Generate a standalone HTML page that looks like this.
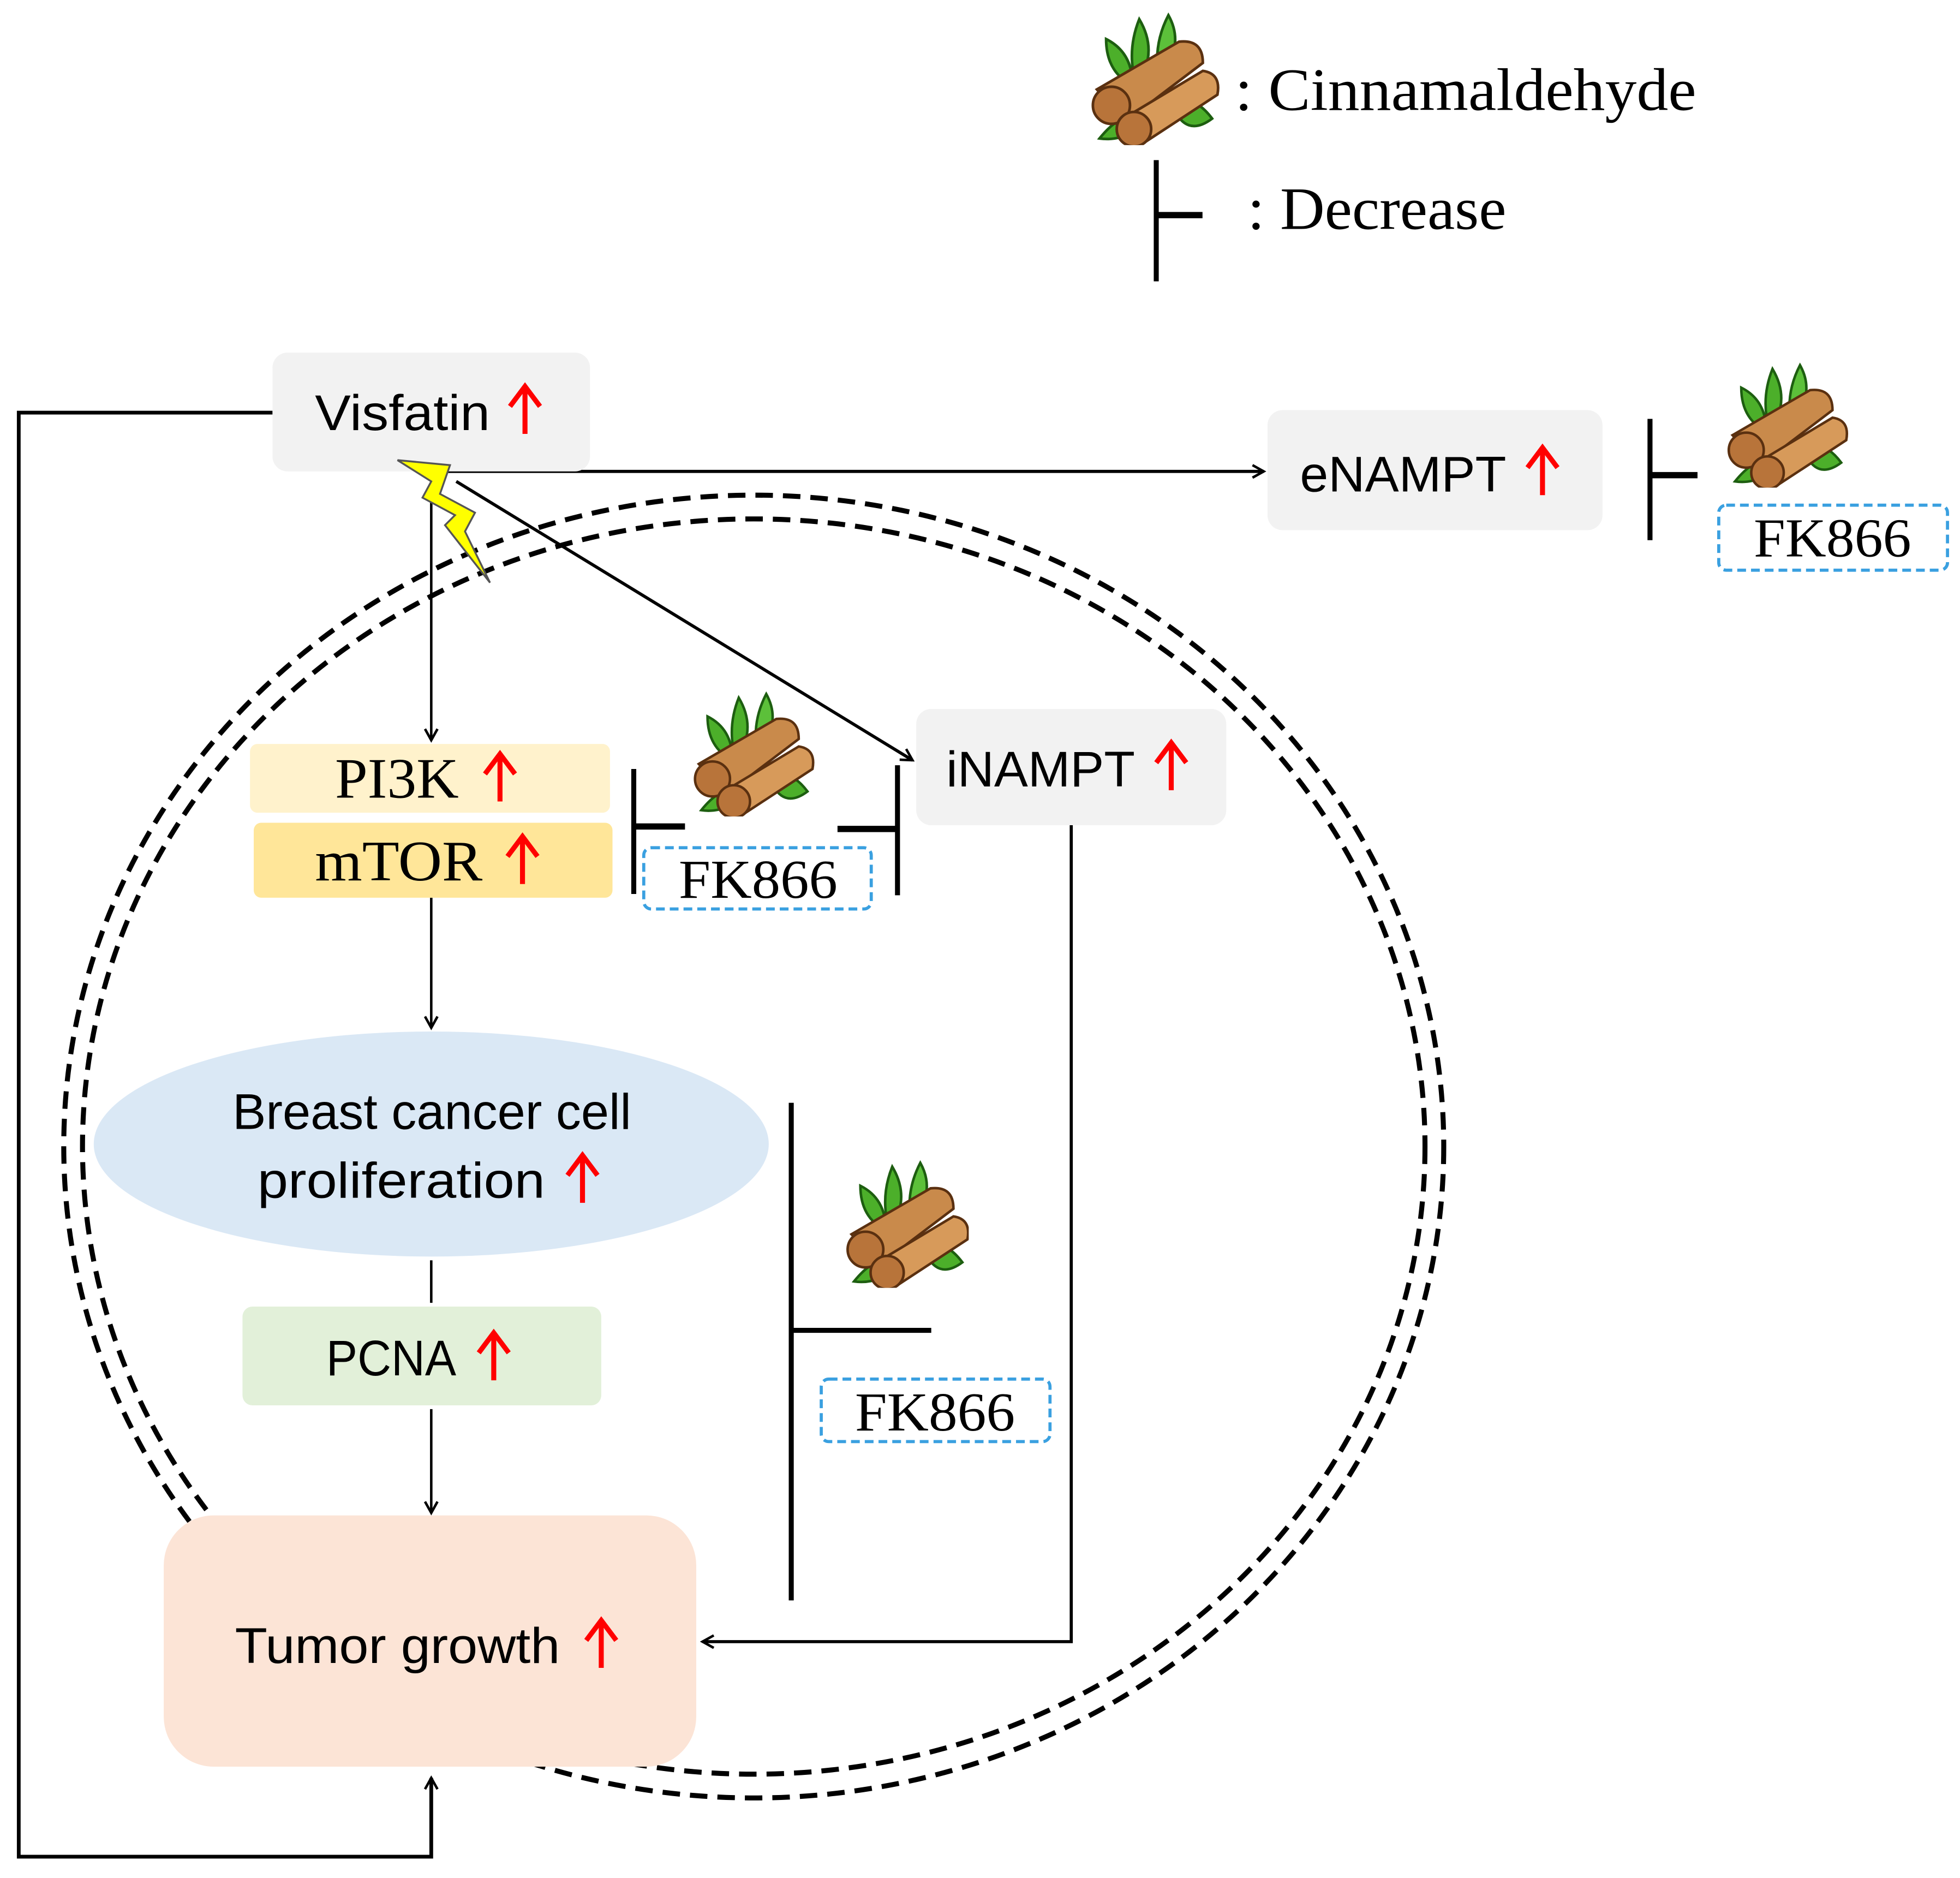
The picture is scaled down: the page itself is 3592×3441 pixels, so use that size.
<!DOCTYPE html>
<html><head><meta charset="utf-8"><style>html,body{margin:0;padding:0;background:#fff}svg{display:block}</style></head>
<body>
<svg width="3592" height="3441" viewBox="0 0 1568 1502" xmlns="http://www.w3.org/2000/svg">
<defs>
<marker id="ah" markerWidth="12" markerHeight="12" refX="10" refY="6" orient="auto" markerUnits="userSpaceOnUse">
<path d="M1,1 L10,6 L1,11" fill="none" stroke="#000" stroke-width="2"/></marker>
<symbol id="cin" viewBox="0 0 100 100">
<path d="M40,5 Q30,30 38,55 Q55,30 40,5Z" fill="#4caf2a" stroke="#1d5e10" stroke-width="2"/>
<path d="M62,2 Q50,25 55,50 Q75,25 62,2Z" fill="#5cc03a" stroke="#1d5e10" stroke-width="2"/>
<path d="M15,20 Q15,45 35,55 Q35,30 15,20Z" fill="#4caf2a" stroke="#1d5e10" stroke-width="2"/>
<path d="M10,95 Q30,70 50,80 Q30,98 10,95Z" fill="#4caf2a" stroke="#1d5e10" stroke-width="2"/>
<path d="M95,80 Q80,60 65,70 Q75,95 95,80Z" fill="#4caf2a" stroke="#1d5e10" stroke-width="2"/>
<path d="M8,58 L70,22 Q88,20 88,38 L30,82 Z" fill="#c98a4b" stroke="#5a3010" stroke-width="2"/>
<circle cx="19" cy="70" r="14" fill="#b8743a" stroke="#5a3010" stroke-width="2"/>
<path d="M28,80 L88,44 Q102,46 99,62 L44,98 Z" fill="#d79a5a" stroke="#5a3010" stroke-width="2"/>
<circle cx="36" cy="88" r="13" fill="#b8743a" stroke="#5a3010" stroke-width="2"/>
</symbol>
<g id="rup"><path d="M0,0 L0,-36" stroke="#f00" stroke-width="4" fill="none"/><path d="M-12,-22 L0,-38 L12,-22" stroke="#f00" stroke-width="4" fill="none"/></g>
</defs>
<g font-family="'Liberation Serif',serif" fill="#000">
<use href="#cin" x="862" y="10" width="120" height="106"/>
<text x="988" y="88" font-size="48" textLength="369" lengthAdjust="spacingAndGlyphs">: Cinnamaldehyde</text>
<line x1="925" y1="128" x2="925" y2="225" stroke="#000" stroke-width="4"/>
<line x1="925" y1="172" x2="962" y2="172" stroke="#000" stroke-width="5"/>
<text x="998" y="183" font-size="48" textLength="207" lengthAdjust="spacingAndGlyphs">: Decrease</text>
</g>
<ellipse cx="603" cy="917" rx="552" ry="521" fill="none" stroke="#000" stroke-width="4" stroke-dasharray="14 8"/>
<ellipse cx="603" cy="917" rx="537" ry="502" fill="none" stroke="#000" stroke-width="4" stroke-dasharray="14 8"/>
<polyline points="218,330 15,330 15,1485 345,1485 345,1422" fill="none" stroke="#000" stroke-width="3" marker-end="url(#ah)"/>
<line x1="345" y1="377" x2="1011" y2="377" stroke="#000" stroke-width="2.5" marker-end="url(#ah)"/>
<line x1="345" y1="377" x2="345" y2="592" stroke="#000" stroke-width="2" marker-end="url(#ah)"/>
<line x1="365" y1="385" x2="730" y2="608" stroke="#000" stroke-width="2.5" marker-end="url(#ah)"/>
<line x1="345" y1="718" x2="345" y2="822" stroke="#000" stroke-width="2" marker-end="url(#ah)"/>
<line x1="345" y1="1008" x2="345" y2="1042" stroke="#000" stroke-width="2"/>
<line x1="345" y1="1127" x2="345" y2="1210" stroke="#000" stroke-width="2" marker-end="url(#ah)"/>
<polyline points="857,660 857,1313 562,1313" fill="none" stroke="#000" stroke-width="2.5" marker-end="url(#ah)"/>
<rect x="218" y="282" width="254" height="95" rx="12" fill="#f2f2f2"/>
<rect x="1014" y="328" width="268" height="96" rx="12" fill="#f2f2f2"/>
<rect x="733" y="567" width="248" height="93" rx="12" fill="#f2f2f2"/>
<rect x="200" y="595" width="288" height="55" rx="6" fill="#fff2cc"/>
<rect x="203" y="658" width="287" height="60" rx="6" fill="#ffe699"/>
<ellipse cx="345" cy="915" rx="270" ry="90" fill="#dae8f5"/>
<rect x="194" y="1045" width="287" height="79" rx="8" fill="#e2f0d9"/>
<rect x="131" y="1212" width="426" height="201" rx="40" fill="#fce4d6"/>
<polygon points="318,368 360,372 352,395 380,410 372,425 392,466 356,420 364,412 338,398 345,385" fill="#ffff00" stroke="#555" stroke-width="1.5"/>
<g font-family="'Liberation Sans',sans-serif" font-size="40" fill="#000" lengthAdjust="spacingAndGlyphs">
<text x="252" y="344" textLength="140" lengthAdjust="spacingAndGlyphs">Visfatin</text><use href="#rup" x="420" y="347"/>
<text x="1040" y="393" textLength="165" lengthAdjust="spacingAndGlyphs">eNAMPT</text><use href="#rup" x="1234" y="396"/>
<text x="757" y="629" textLength="151" lengthAdjust="spacingAndGlyphs">iNAMPT</text><use href="#rup" x="937" y="632"/>
<text x="186" y="903" textLength="319" lengthAdjust="spacingAndGlyphs">Breast cancer cell</text>
<text x="206" y="958" textLength="230" lengthAdjust="spacingAndGlyphs">proliferation</text><use href="#rup" x="466" y="962"/>
<text x="261" y="1100" textLength="104" lengthAdjust="spacingAndGlyphs">PCNA</text><use href="#rup" x="395" y="1104"/>
<text x="188" y="1330" textLength="260" lengthAdjust="spacingAndGlyphs">Tumor growth</text><use href="#rup" x="481" y="1334"/>
</g>
<g font-family="'Liberation Serif',serif" font-size="46" fill="#000">
<text x="268" y="638" textLength="99" lengthAdjust="spacingAndGlyphs">PI3K</text><use href="#rup" x="400" y="641"/>
<text x="252" y="704" textLength="134" lengthAdjust="spacingAndGlyphs">mTOR</text><use href="#rup" x="418" y="707"/>
</g>
<line x1="1320" y1="335" x2="1320" y2="432" stroke="#000" stroke-width="4"/>
<line x1="1320" y1="380" x2="1358" y2="380" stroke="#000" stroke-width="5"/>
<use href="#cin" x="1376" y="290" width="104" height="100"/>
<line x1="507" y1="615" x2="507" y2="715" stroke="#000" stroke-width="4"/>
<line x1="507" y1="661" x2="548" y2="661" stroke="#000" stroke-width="5"/>
<line x1="718" y1="612" x2="718" y2="716" stroke="#000" stroke-width="4"/>
<line x1="670" y1="663" x2="718" y2="663" stroke="#000" stroke-width="5"/>
<use href="#cin" x="550" y="553" width="102" height="100"/>
<line x1="633" y1="882" x2="633" y2="1280" stroke="#000" stroke-width="4"/>
<line x1="633" y1="1064" x2="745" y2="1064" stroke="#000" stroke-width="4"/>
<use href="#cin" x="673" y="928" width="102" height="102"/>
<g fill="none" stroke="#3aa0e0" stroke-width="2.5" stroke-dasharray="7 4">
<rect x="1375" y="404" width="183" height="52" rx="6"/>
<rect x="515" y="678" width="182" height="49" rx="6"/>
<rect x="657" y="1103" width="183" height="50" rx="6"/>
</g>
<g font-family="'Liberation Serif',serif" font-size="44" fill="#000">
<text x="1403" y="445" textLength="126" lengthAdjust="spacingAndGlyphs">FK866</text>
<text x="543" y="718" textLength="127" lengthAdjust="spacingAndGlyphs">FK866</text>
<text x="684" y="1144" textLength="128" lengthAdjust="spacingAndGlyphs">FK866</text>
</g>
</svg>
</body></html>
